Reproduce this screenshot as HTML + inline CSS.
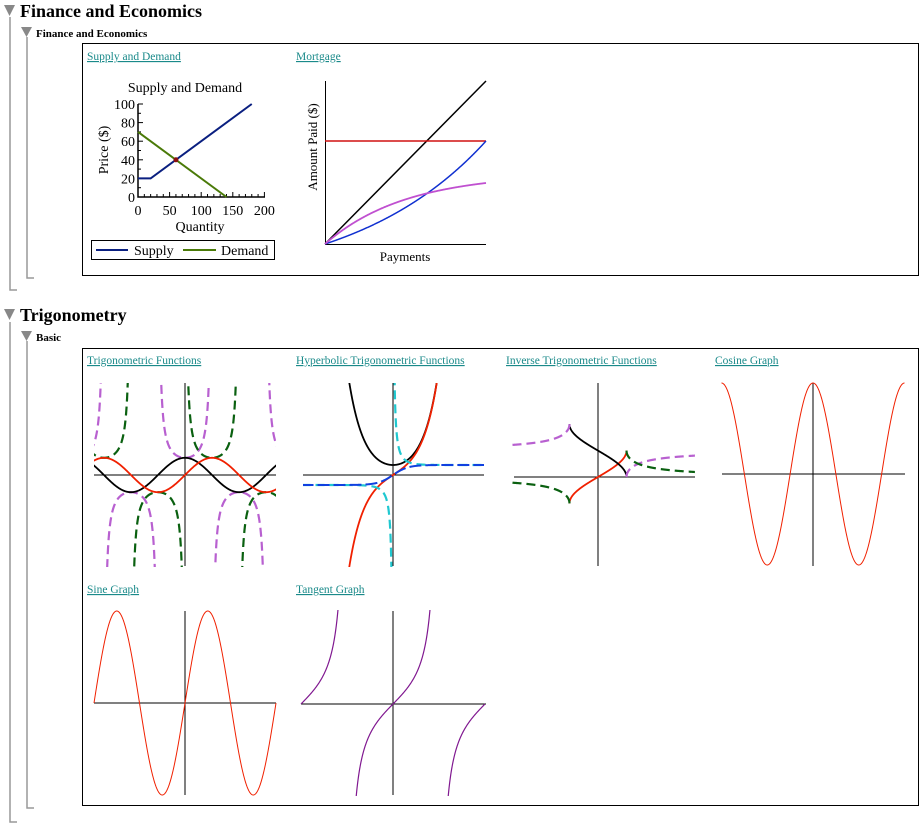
<!DOCTYPE html>
<html><head><meta charset="utf-8">
<style>
body{margin:0;background:#fff;width:924px;height:829px;overflow:hidden;font-family:"Liberation Serif",serif}
svg{position:absolute;left:0;top:0}
</style></head><body>
<svg id="s" width="924" height="829" xmlns="http://www.w3.org/2000/svg" font-family="Liberation Serif, serif">
<defs>
<clipPath id="c1"><rect x="94" y="383" width="182" height="184"/></clipPath>
<clipPath id="c2"><rect x="303" y="383" width="181" height="184"/></clipPath>
<clipPath id="c3"><rect x="512" y="383" width="184" height="184"/></clipPath>
<clipPath id="c4"><rect x="720" y="383" width="187" height="184"/></clipPath>
<clipPath id="c5"><rect x="92" y="610" width="186" height="186"/></clipPath>
<clipPath id="c6"><rect x="300" y="610" width="188" height="186"/></clipPath>
</defs>
<!-- tree -->
<polygon points="4,5 15,5 9.5,16" fill="#888"/>
<text x="20" y="17" font-size="18" font-weight="bold">Finance and Economics</text>
<polyline points="10,17 10,290 17,290" fill="none" stroke="#999" stroke-width="1.5"/>
<polygon points="21,27 32,27 26.5,37" fill="#888"/>
<text x="36" y="37" font-size="11" font-weight="bold">Finance and Economics</text>
<polyline points="27,37 27,278 34,278" fill="none" stroke="#999" stroke-width="1.5"/>
<rect x="82.5" y="43.5" width="836" height="232" fill="none" stroke="#000"/>
<g font-size="11.5" fill="#1a8a8a" text-decoration="underline">
<text x="87" y="60">Supply and Demand</text>
<text x="296" y="60">Mortgage</text>
</g>
<!-- supply/demand -->
<text x="185" y="92" font-size="14" text-anchor="middle">Supply and Demand</text>
<g id="sd"></g>
<text x="200" y="231" font-size="14" text-anchor="middle">Quantity</text>
<text transform="translate(108,150) rotate(-90)" font-size="14" text-anchor="middle">Price ($)</text>
<rect x="91.5" y="240.5" width="183" height="19" fill="none" stroke="#000"/>
<line x1="96" y1="250" x2="128" y2="250" stroke="#0a1f80" stroke-width="2"/>
<text x="134" y="255" font-size="14">Supply</text>
<line x1="183" y1="250" x2="216" y2="250" stroke="#4a7a08" stroke-width="2"/>
<text x="221" y="255" font-size="14">Demand</text>
<!-- mortgage -->
<polyline points="325.5,81 325.5,244.5 486,244.5" fill="none" stroke="#000"/>
<line x1="325" y1="244" x2="486" y2="81" stroke="#000" stroke-width="1.5"/>
<line x1="325" y1="141" x2="486" y2="141" stroke="#d01010" stroke-width="1.5"/>
<g id="mg"></g>
<text x="405" y="261" font-size="13" text-anchor="middle">Payments</text>
<text transform="translate(317,147) rotate(-90)" font-size="13" text-anchor="middle">Amount Paid ($)</text>
<!-- trig section -->
<polygon points="4,309 15,309 9.5,320" fill="#888"/>
<text x="20" y="321" font-size="18" font-weight="bold">Trigonometry</text>
<polyline points="10,322 10,822 17,822" fill="none" stroke="#999" stroke-width="1.5"/>
<polygon points="21,331 32,331 26.5,341" fill="#888"/>
<text x="36" y="341" font-size="11" font-weight="bold">Basic</text>
<polyline points="27,341 27,808 34,808" fill="none" stroke="#999" stroke-width="1.5"/>
<rect x="82.5" y="348.5" width="836" height="457" fill="none" stroke="#000"/>
<g font-size="11.5" fill="#1a8a8a" text-decoration="underline">
<text x="87" y="364">Trigonometric Functions</text>
<text x="296" y="364">Hyperbolic Trigonometric Functions</text>
<text x="506" y="364">Inverse Trigonometric Functions</text>
<text x="715" y="364">Cosine Graph</text>
<text x="87" y="593">Sine Graph</text>
<text x="296" y="593">Tangent Graph</text>
</g>
<g stroke="#000" stroke-width="1" shape-rendering="crispEdges">
<line x1="94" y1="475" x2="276" y2="475"/><line x1="185" y1="383" x2="185" y2="566"/>
<line x1="303" y1="475" x2="484" y2="475"/><line x1="393" y1="383" x2="393" y2="566"/>
<line x1="514" y1="477" x2="695" y2="477"/><line x1="598" y1="383" x2="598" y2="566"/>
<line x1="722" y1="474" x2="905" y2="474"/><line x1="813" y1="383" x2="813" y2="566"/>
<line x1="94" y1="703" x2="276" y2="703"/><line x1="185" y1="611" x2="185" y2="795"/>
<line x1="301" y1="704" x2="486" y2="704"/><line x1="393" y1="611" x2="393" y2="795"/>
</g>
<g id="curves"></g>
</svg>
<script>
var NS="http://www.w3.org/2000/svg";
function add(par,tag,attrs){var e=document.createElementNS(NS,tag);for(var k in attrs)e.setAttribute(k,attrs[k]);document.getElementById(par).appendChild(e);return e;}
function plot(par,f,a,b,cx,cy,sx,sy,style,lim){
  lim=lim||1e9;var d="",pen=false,N=600;
  for(var i=0;i<=N;i++){var t=a+(b-a)*i/N;var v=f(t);
    if(!isFinite(v)||Math.abs(v*sy)>lim){pen=false;continue;}
    var X=cx+t*sx,Y=cy-v*sy;d+=(pen?"L":"M")+X.toFixed(2)+" "+Y.toFixed(2);pen=true;}
  var o={d:d,fill:"none"};for(var k in style)o[k]=style[k];add(par,"path",o);
}
(function(){
 var g="sd";var x0=138,y0=197,sx=0.632,sy=0.93;
 add(g,"polyline",{points:"138,104 138,197 265,197",fill:"none",stroke:"#000","stroke-width":"1.5"});
 for(var v=0;v<=100;v+=10){var y=y0-v*sy;add(g,"line",{x1:138,x2:(v%20?141:143),y1:y,y2:y,stroke:"#000"});}
 for(var q=0;q<=200;q+=10){var x=x0+q*sx;add(g,"line",{x1:x,x2:x,y1:197,y2:(q%50?194:192),stroke:"#000"});}
 [0,20,40,60,80,100].forEach(function(v){var t=add(g,"text",{x:135,y:y0-v*sy+5,"font-size":"14","text-anchor":"end"});t.textContent=v;});
 [0,50,100,150,200].forEach(function(q){var t=add(g,"text",{x:x0+q*sx,y:215,"font-size":"14","text-anchor":"middle"});t.textContent=q;});
 function P(q,v){return (x0+q*sx)+","+(y0-v*sy);}
 add(g,"polyline",{points:P(0,20)+" "+P(20,20)+" "+P(180,100),fill:"none",stroke:"#0a1f80","stroke-width":"2"});
 add(g,"polyline",{points:P(0,70)+" "+P(140,0),fill:"none",stroke:"#4a7a08","stroke-width":"2"});
 add(g,"circle",{cx:x0+60*sx,cy:y0-40*sy,r:2.5,fill:"#8a1010"});
})();
plot("mg",function(t){return (Math.exp(1.2*t)-1)/(Math.exp(1.2)-1);},0,1,325,244,161,103,{stroke:"#1030d0","stroke-width":"1.5"});
plot("mg",function(t){return (1-Math.exp(-2*t))/(1-Math.exp(-2));},0,1,325,244,161,61,{stroke:"#c050d0","stroke-width":"1.8"});
var S=17.2,L=Math.PI*5.3/3;
var sol=function(c){return {stroke:c,"stroke-width":"1.8","clip-path":"url(#c1)"};};
var dsh=function(c,cp){return {stroke:c,"stroke-width":"2.2","stroke-dasharray":"9,5","clip-path":"url("+cp+")"};};
plot("curves",function(t){return 1/Math.cos(t);},-L,L,185,475,S,S,dsh("#b860d0","#c1"),120);
plot("curves",function(t){return 1/Math.sin(t);},-L,L,185,475,S,S,dsh("#0a6010","#c1"),120);
plot("curves",Math.cos,-L,L,185,475,S,S,sol("#000"));
plot("curves",Math.sin,-L,L,185,475,S,S,sol("#f02000"));
var hx=15,hy=10;
plot("curves",Math.cosh,-4,4,393,475,hx,hy,{stroke:"#000","stroke-width":"1.8","clip-path":"url(#c2)"},120);
plot("curves",Math.sinh,-6,6,393,475,hx,hy,{stroke:"#f02000","stroke-width":"1.8","clip-path":"url(#c2)"},120);
plot("curves",function(t){return Math.cosh(t)/Math.sinh(t);},-6.1,6.1,393,475,hx,hy,dsh("#20c8d0","#c2"),120);
plot("curves",Math.tanh,-6.1,6.1,393,475,hx,hy,{stroke:"#1040e0","stroke-width":"2","stroke-dasharray":"12,4","clip-path":"url(#c2)"});
var ix=28.5,iy=16.8;
plot("curves",Math.asin,-1,1,598,477,ix,iy,{stroke:"#f02000","stroke-width":"1.8"});
plot("curves",Math.acos,-1,1,598,477,ix,iy,{stroke:"#000","stroke-width":"1.8"});
plot("curves",function(t){return Math.acos(1/t);},-3,-1,598,477,ix,iy,dsh("#b860d0","#c3"));
plot("curves",function(t){return Math.acos(1/t);},1,3.4,598,477,ix,iy,dsh("#b860d0","#c3"));
plot("curves",function(t){return Math.asin(1/t);},-3,-1,598,477,ix,iy,dsh("#0a6010","#c3"));
plot("curves",function(t){return Math.asin(1/t);},1,3.4,598,477,ix,iy,dsh("#0a6010","#c3"));
var P2=2*Math.PI;
plot("curves",Math.cos,-P2,P2,813,474,91.5/P2,91,{stroke:"#f02000","stroke-width":"1"});
plot("curves",Math.sin,-P2,P2,185,703,91/P2,92,{stroke:"#f02000","stroke-width":"1"});
plot("curves",Math.tan,-Math.PI,Math.PI,393,704,92/Math.PI,30,{stroke:"#801890","stroke-width":"1.2","clip-path":"url(#c6)"},100);
</script>
</body></html>
